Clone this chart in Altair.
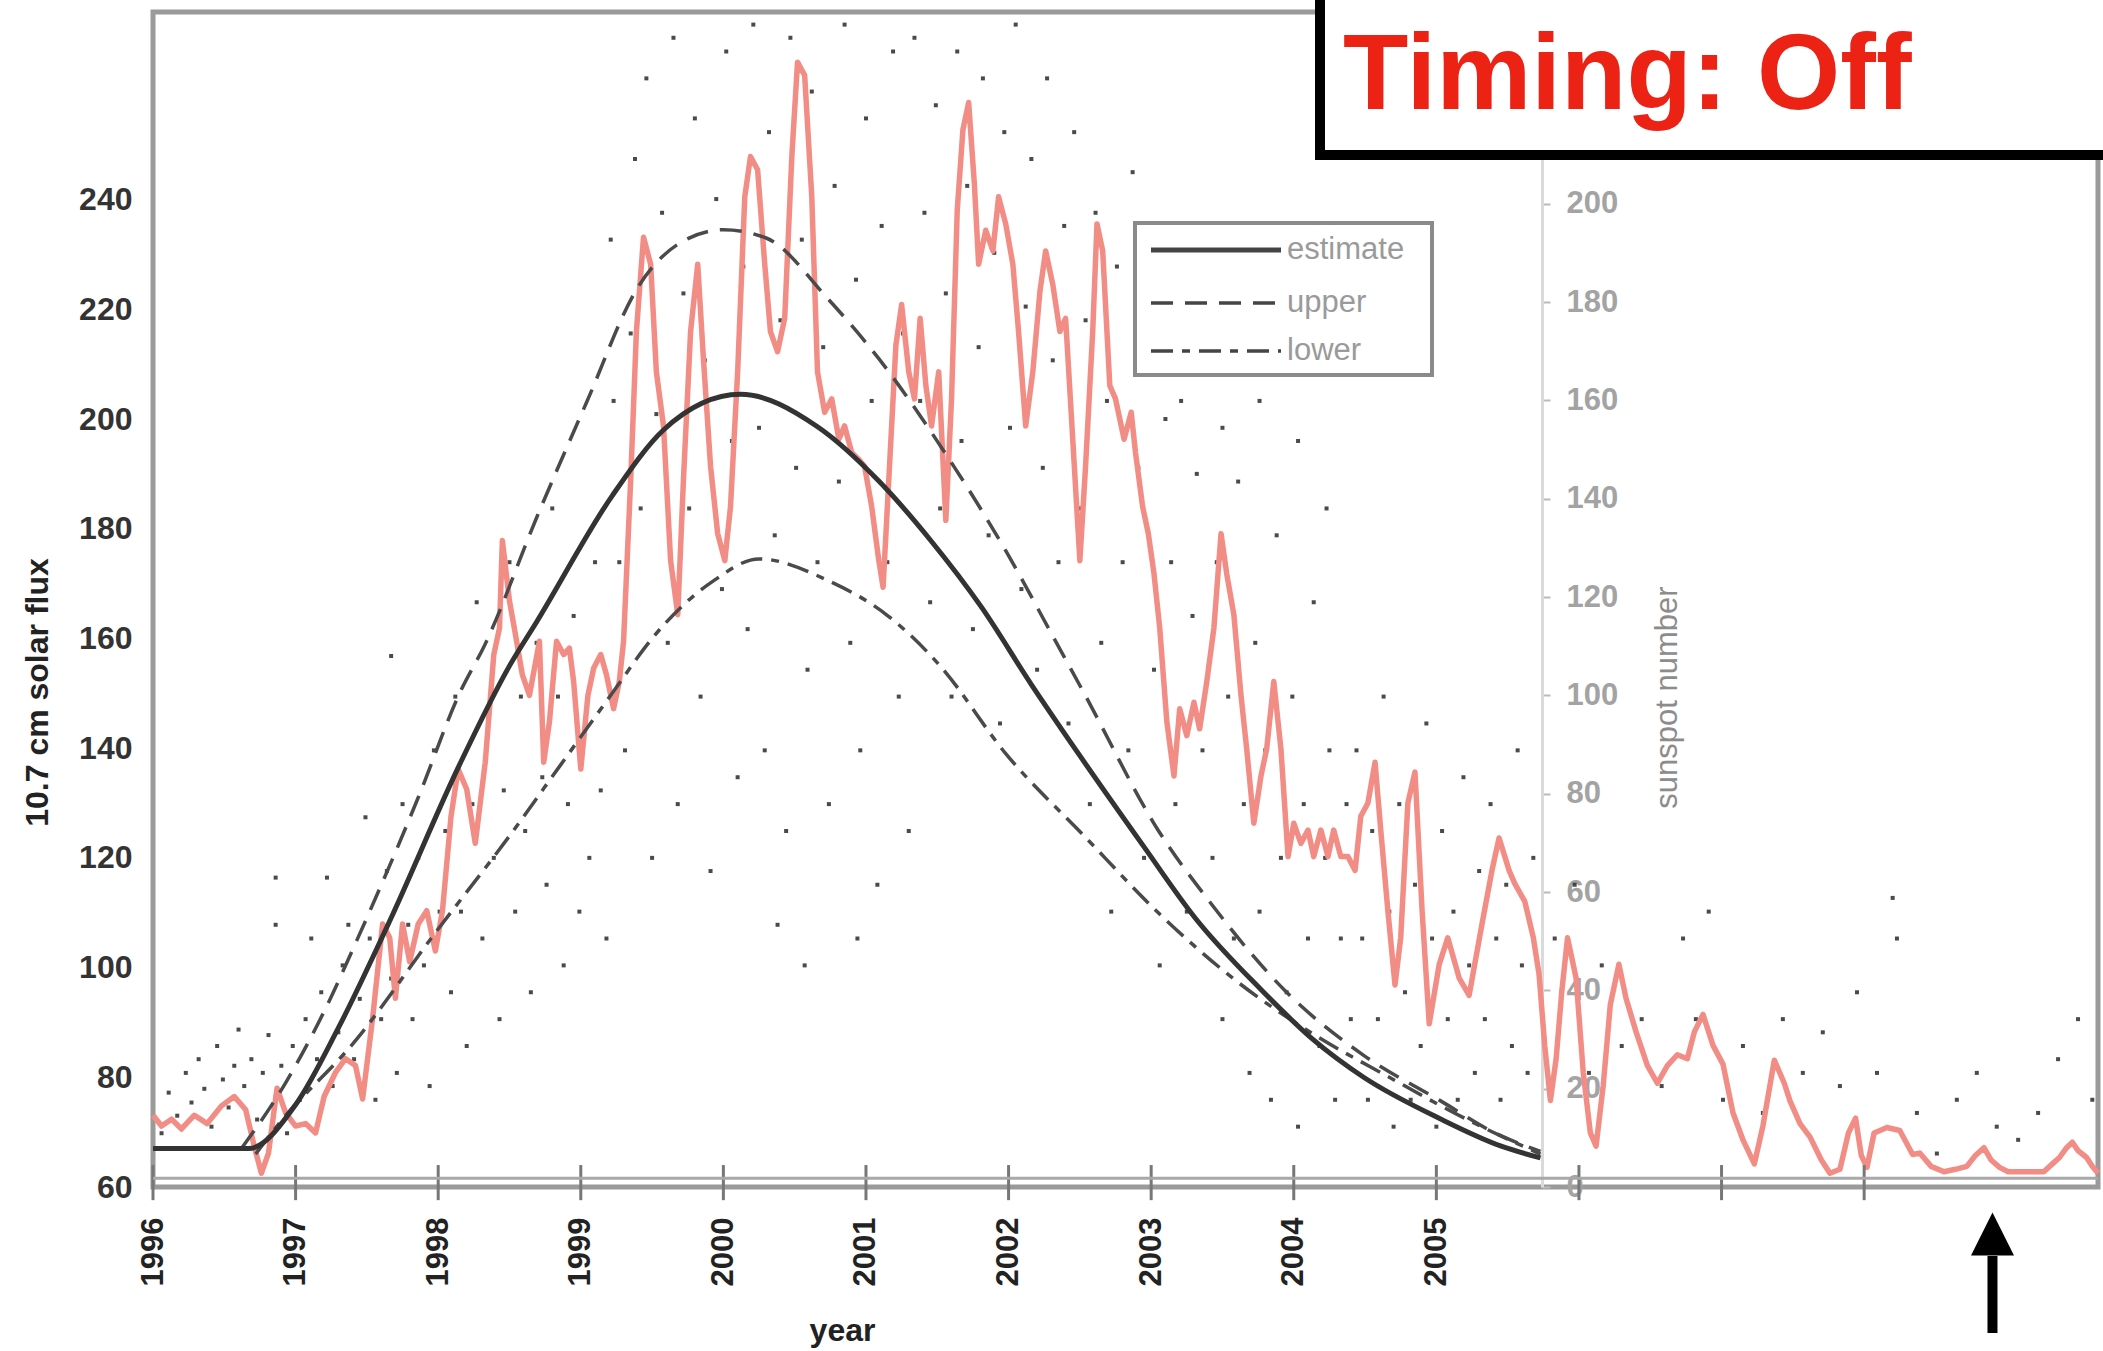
import altair as alt
import pandas as pd

# ---------------- data ----------------
est_year = [1996.0, 1996.67, 1997.0, 1997.3, 1997.66, 1998.15, 1998.5, 1998.69, 1999.22, 1999.58,
            2000.12, 2000.66, 2001.09, 2001.45, 2001.81, 2002.16, 2002.49, 2002.95, 2003.31, 2003.77,
            2004.13, 2004.49, 2005.03, 2005.45, 2005.73]
est_flux = [67, 67, 75, 89, 108.5, 137, 155, 163, 186, 198,
            204.5, 198.6, 188.7, 178, 165.7, 151.6, 139, 122, 109, 96,
            87, 80, 72.4, 67.5, 65.3]

upper_year = [1996.62, 1996.93, 1997.2, 1997.43, 1997.86, 1998.15, 1998.33, 1998.69, 1999.04, 1999.4,
              1999.69, 2000.0, 2000.3, 2000.73, 2001.09, 2001.55, 2001.98, 2002.34, 2002.53, 2003.05,
              2003.41, 2003.95, 2004.49, 2005.03, 2005.4, 2005.73]
upper_flux = [67, 79, 92, 105, 131, 150, 159, 182, 203, 224,
              232, 234.5, 233, 222, 211, 194, 176, 159, 150, 125,
              112, 95.5, 84, 75.7, 70, 66.5]

lower_year = [1996.72, 1996.86, 1997.43, 1997.97, 1998.5, 1998.86, 1999.22, 1999.5, 1999.93, 2000.25,
              2000.73, 2001.16, 2001.52, 2001.98, 2002.53, 2003.05, 2003.6, 2004.13, 2004.67, 2005.2,
              2005.73]
lower_flux = [66, 70.8, 87, 106, 124, 137, 150, 160, 170.5, 174.5,
              170.6, 164, 155, 139, 124, 110, 97.5, 88, 80, 72.5,
              66]

red_year = [1996.00, 1996.06, 1996.13, 1996.20, 1996.29, 1996.38, 1996.48, 1996.57, 1996.65, 1996.71,
            1996.76, 1996.81, 1996.87, 1996.93, 1997.00, 1997.07, 1997.14, 1997.20, 1997.28, 1997.35,
            1997.42, 1997.47, 1997.54, 1997.61, 1997.66, 1997.70, 1997.75, 1997.80, 1997.86, 1997.92,
            1997.98, 1998.03, 1998.09, 1998.14, 1998.20, 1998.26, 1998.33, 1998.39, 1998.43, 1998.45,
            1998.50, 1998.55, 1998.59, 1998.64, 1998.71, 1998.74, 1998.78, 1998.83, 1998.88, 1998.92,
            1998.95, 1999.00, 1999.05, 1999.09, 1999.14, 1999.18, 1999.23, 1999.27, 1999.30, 1999.35,
            1999.39, 1999.44, 1999.49, 1999.53, 1999.58, 1999.63, 1999.68, 1999.72, 1999.77, 1999.82,
            1999.86, 1999.91, 1999.96, 2000.01, 2000.05, 2000.10, 2000.15, 2000.19, 2000.24, 2000.29,
            2000.33, 2000.38, 2000.43, 2000.48, 2000.52, 2000.57, 2000.62, 2000.66, 2000.71, 2000.76,
            2000.81, 2000.85, 2000.90, 2000.95, 2000.99, 2001.04, 2001.09, 2001.12, 2001.15, 2001.21,
            2001.25, 2001.30, 2001.34, 2001.38, 2001.42, 2001.46, 2001.51, 2001.56, 2001.60, 2001.64,
            2001.68, 2001.72, 2001.76, 2001.79, 2001.84, 2001.89, 2001.93, 2001.98, 2002.03, 2002.07,
            2002.12, 2002.17, 2002.22, 2002.26, 2002.31, 2002.36, 2002.40, 2002.45, 2002.50, 2002.54,
            2002.59, 2002.62, 2002.66, 2002.71, 2002.75, 2002.81, 2002.86, 2002.89, 2002.94, 2002.98,
            2003.02, 2003.06, 2003.11, 2003.16, 2003.20, 2003.25, 2003.30, 2003.34, 2003.39, 2003.44,
            2003.49, 2003.53, 2003.58, 2003.63, 2003.67, 2003.72, 2003.77, 2003.81, 2003.86, 2003.91,
            2003.96, 2004.00, 2004.05, 2004.10, 2004.14, 2004.19, 2004.24, 2004.28, 2004.33, 2004.38,
            2004.43, 2004.47, 2004.52, 2004.57, 2004.61, 2004.66, 2004.71, 2004.75, 2004.80, 2004.85,
            2004.90, 2004.95, 2005.02, 2005.08, 2005.16, 2005.23, 2005.32, 2005.39, 2005.44, 2005.51,
            2005.55, 2005.62, 2005.68, 2005.72, 2005.76, 2005.80, 2005.84, 2005.88, 2005.92, 2005.98,
            2006.03, 2006.08, 2006.12, 2006.17, 2006.22, 2006.28, 2006.33, 2006.40, 2006.48, 2006.55,
            2006.62, 2006.69, 2006.76, 2006.81, 2006.87, 2006.94, 2007.01, 2007.08, 2007.15, 2007.23,
            2007.29, 2007.37, 2007.44, 2007.48, 2007.55, 2007.62, 2007.70, 2007.76, 2007.83, 2007.89,
            2007.94, 2007.98, 2008.02, 2008.07, 2008.16, 2008.25, 2008.34, 2008.39, 2008.47, 2008.56,
            2008.64, 2008.72, 2008.78, 2008.84, 2008.89, 2008.95, 2009.01, 2009.07, 2009.17, 2009.26,
            2009.32, 2009.37, 2009.42, 2009.46, 2009.50, 2009.56, 2009.60, 2009.64]
red_ssn = [14.6, 12.4, 13.8, 11.8, 14.6, 12.9, 16.5, 18.4, 15.7, 8.3,
           2.8, 6.9, 20.1, 15.1, 12.4, 12.9, 11.0, 18.4, 23.3, 26.1,
           24.7, 17.9, 34.3, 53.5, 50.7, 38.4, 53.5, 45.8, 53.5, 56.2,
           48.0, 56.2, 75.4, 85.0, 80.9, 69.9, 86.4, 108.3, 113.7, 131.5,
           119.2, 111.0, 104.2, 100.0, 111.0, 86.4, 94.6, 111.0, 108.3, 109.6,
           102.8, 85.0, 100.0, 105.5, 108.3, 104.2, 97.3, 102.8, 111.0, 143.9,
           174.0, 193.2, 187.7, 165.8, 154.8, 127.4, 116.4, 143.9, 174.0, 187.7,
           168.5, 146.6, 132.9, 127.4, 138.4, 165.8, 201.4, 209.6, 206.9, 187.7,
           174.0, 169.9, 176.7, 209.6, 228.8, 226.1, 201.4, 165.8, 157.6, 160.3,
           152.1, 154.8, 149.4, 148.0, 146.6, 138.4, 127.4, 122.0, 138.4, 171.3,
           179.5, 165.8, 160.3, 176.7, 163.0, 154.8, 165.8, 135.6, 160.3, 198.7,
           215.1, 220.6, 204.1, 187.7, 194.6, 190.4, 201.4, 195.9, 187.7, 174.0,
           154.8, 165.8, 182.2, 190.4, 183.6, 174.0, 176.7, 152.1, 127.4, 146.6,
           174.0, 195.9, 190.4, 163.0, 160.3, 152.1, 157.6, 149.4, 138.4, 132.9,
           124.7, 113.7, 94.6, 83.6, 97.3, 91.8, 98.6, 93.2, 102.8, 113.7,
           132.9, 124.7, 116.4, 100.0, 89.1, 74.0, 83.6, 89.1, 102.8, 89.1,
           67.2, 74.0, 69.9, 72.6, 67.2, 72.6, 67.2, 72.6, 67.2, 67.2,
           64.4, 75.4, 78.1, 86.4, 72.6, 56.2, 41.1, 50.7, 78.1, 84.4,
           56.2, 33.2, 45.3, 50.7, 42.5, 39.0, 53.5, 64.4, 71.0, 64.4,
           61.7, 58.1, 50.7, 43.3, 28.8, 17.6, 26.1, 39.9, 50.7, 42.5,
           23.3, 11.0, 8.3, 20.6, 37.1, 45.3, 38.4, 31.6, 24.7, 21.1,
           24.7, 26.9, 26.1, 31.6, 35.1, 28.8, 25.0, 15.1, 9.6, 4.7,
           12.4, 25.8, 21.1, 17.5, 12.9, 10.2, 5.5, 2.8, 3.6, 11.0,
           14.0, 6.4, 4.0, 11.0, 12.1, 11.5, 6.6, 6.9, 4.2, 3.1,
           3.6, 4.2, 6.4, 8.0, 5.5, 4.0, 3.1, 3.1, 3.1, 3.1,
           4.7, 6.0, 8.0, 9.1, 7.4, 6.0, 4.2, 2.8]

# scattered daily values (grey specks)
dot_year = [1996.06, 1996.11, 1996.17, 1996.23, 1996.27, 1996.32, 1996.36, 1996.41, 1996.45, 1996.49,
            1996.53, 1996.57, 1996.60, 1996.64, 1996.69, 1996.73, 1996.77, 1996.81, 1996.86, 1996.90,
            1996.94, 1996.98, 1996.86, 1996.86,
            1997.03, 1997.07, 1997.11, 1997.15, 1997.18, 1997.22, 1997.26, 1997.30, 1997.33, 1997.37,
            1997.41, 1997.45, 1997.49, 1997.52, 1997.56, 1997.60, 1997.64, 1997.67, 1997.71, 1997.75,
            1997.79, 1997.82, 1997.86, 1997.90, 1997.94, 1997.97, 1998.01, 1997.67,
            1998.05, 1998.09, 1998.12, 1998.16, 1998.20, 1998.24, 1998.27, 1998.31, 1998.35, 1998.39,
            1998.43, 1998.46, 1998.50, 1998.54, 1998.58, 1998.61, 1998.65, 1998.69, 1998.73, 1998.76,
            1998.80, 1998.84, 1998.88, 1998.91, 1998.95, 1998.99, 1999.03, 1999.06, 1999.10, 1999.14,
            1999.18,
            1999.21, 1999.23, 1999.27, 1999.31, 1999.35, 1999.38, 1999.42, 1999.46, 1999.50, 1999.53,
            1999.57, 1999.61, 1999.65, 1999.68, 1999.72, 1999.76, 1999.80, 1999.84, 1999.87, 1999.91,
            1999.95, 1999.99, 2000.02, 2000.06, 2000.10, 2000.14, 2000.17,
            2000.21, 2000.25, 2000.29, 2000.32, 2000.36, 2000.40, 2000.44, 2000.47, 2000.51, 2000.55,
            2000.59, 2000.62, 2000.66, 2000.70, 2000.74, 2000.78, 2000.81, 2000.85, 2000.89, 2000.93,
            2000.96, 2001.00, 2001.04, 2001.08, 2001.11, 2001.15, 2001.19, 2001.23, 2001.26, 2001.30,
            2000.57, 2000.94, 2000.38,
            2001.34, 2001.38, 2001.41, 2001.45, 2001.49, 2001.52, 2001.56, 2001.60, 2001.64, 2001.67,
            2001.71, 2001.75, 2001.79, 2001.82, 2001.86, 2001.90, 2001.94, 2001.97, 2002.01, 2002.05,
            2002.09, 2002.12, 2002.16, 2002.20, 2002.24, 2002.27, 2002.31, 2002.35, 2002.39, 2002.42,
            2002.46, 2002.50, 2002.54, 2002.57, 2002.61, 2002.65, 2002.69, 2002.72, 2002.76, 2002.80,
            2002.84, 2002.87, 2002.91, 2002.95, 2002.99, 2003.02, 2003.06, 2003.10, 2003.14, 2003.17,
            2003.21, 2003.25, 2003.29, 2003.32, 2003.36,
            2003.43, 2003.46, 2003.50, 2003.54, 2003.58, 2003.61, 2003.65, 2003.69, 2003.73, 2003.76,
            2003.80, 2003.84, 2003.88, 2003.91, 2003.95, 2003.99, 2004.03, 2004.07, 2004.10, 2004.14,
            2004.18, 2004.22, 2004.25, 2004.29, 2004.33, 2004.37, 2004.40, 2003.50, 2003.76, 2004.03,
            2004.23,
            2004.44, 2004.48, 2004.52, 2004.55, 2004.59, 2004.63, 2004.67, 2004.70, 2004.74, 2004.78,
            2004.82, 2004.85, 2004.89, 2004.93, 2004.97, 2005.00, 2005.04, 2005.08, 2005.12, 2005.15,
            2005.19, 2005.23, 2005.27, 2005.30, 2005.34, 2005.38, 2005.42, 2005.45, 2005.49, 2005.53,
            2005.57, 2005.60, 2005.64, 2005.68,
            2005.83, 2005.88, 2005.97, 2006.07, 2006.16, 2006.30, 2006.44, 2006.58, 2006.73, 2006.82,
            2006.91, 2007.01, 2007.15, 2007.29, 2007.43, 2007.57, 2007.71, 2007.83, 2007.95, 2008.09,
            2008.20, 2008.23, 2008.37, 2008.51, 2008.65, 2008.79, 2008.93, 2009.08, 2009.22, 2009.36,
            2009.50, 2009.60]
dot_flux = [69.8, 77.2, 73.0, 80.8, 75.4, 83.3, 77.9, 71.0, 85.7, 79.6,
            74.5, 82.1, 88.7, 78.4, 83.3, 72.3, 80.8, 87.7, 76.4, 82.1,
            69.8, 85.7, 116.4, 107.8,
            75.9, 90.6, 105.3, 83.3, 95.5, 116.4, 78.4, 88.2, 100.4, 107.8,
            83.3, 94.3, 127.4, 105.3, 75.9, 90.6, 117.6, 98.0, 80.8, 129.8,
            107.8, 90.6, 120.0, 100.4, 78.4, 139.6, 110.2, 156.8,
            124.9, 95.5, 149.4, 110.2, 85.7, 129.8, 166.6, 105.3, 144.5, 120.0,
            90.6, 132.3, 173.9, 110.2, 149.4, 124.9, 95.5, 159.2, 134.7, 115.1,
            183.7, 149.4, 100.4, 129.8, 164.1, 110.2, 144.5, 120.0, 173.9, 132.3,
            105.3,
            232.7, 203.3, 173.9, 139.6, 215.6, 247.4, 183.7, 262.1, 120.0, 200.9,
            237.6, 159.2, 269.5, 129.8, 222.9, 183.7, 254.8, 149.4, 210.7, 117.6,
            240.1, 169.0, 267.0, 196.0, 134.7, 227.8, 161.7,
            271.9, 198.4, 139.6, 252.3, 178.8, 218.0, 124.9, 269.5, 191.1, 232.7,
            154.3, 259.7, 173.9, 213.1, 129.8, 242.5, 188.6, 271.9, 159.2, 225.4,
            139.6, 254.8, 203.3, 115.1, 235.2, 173.9, 267.0, 149.4, 215.6, 124.9,
            100.4, 105.3, 107.8,
            269.5, 203.3, 237.6, 166.6, 257.2, 183.7, 222.9, 149.4, 267.0, 196.0,
            242.5, 161.7, 213.1, 262.1, 178.8, 230.3, 144.5, 252.3, 198.4, 271.9,
            169.0, 220.5, 247.4, 154.3, 191.1, 262.1, 210.7, 173.9, 235.2, 144.5,
            252.3, 183.7, 218.0, 129.8, 237.6, 159.2, 203.3, 110.2, 227.8, 173.9,
            139.6, 245.0, 191.1, 120.0, 215.6, 154.3, 100.4, 200.0, 173.9, 129.8,
            203.3, 110.2, 164.1, 190.0, 139.6,
            120.0, 173.9, 90.6, 149.4, 105.3, 188.6, 129.8, 80.8, 159.2, 110.2,
            139.6, 75.9, 178.8, 120.0, 95.5, 149.4, 71.0, 129.8, 105.3, 166.6,
            85.7, 120.0, 139.6, 75.9, 105.3, 129.8, 90.6, 198.4, 203.3, 196.0,
            183.7,
            139.6, 105.3, 75.9, 124.9, 90.6, 149.4, 110.2, 71.0, 129.8, 95.5,
            75.9, 115.1, 85.7, 144.5, 105.3, 71.0, 124.9, 90.6, 110.2, 75.9,
            134.7, 100.4, 80.8, 117.6, 90.6, 129.8, 105.3, 75.9, 115.1, 85.7,
            139.6, 100.4, 80.8, 120.0,
            105.3, 95.5, 115.1, 80.8, 100.4, 85.7, 90.6, 78.4, 105.3, 90.6,
            110.2, 75.9, 85.7, 73.5, 90.6, 80.8, 88.2, 78.4, 95.5, 80.8,
            112.7, 105.3, 73.5, 66.1, 75.9, 80.8, 71.0, 68.6, 73.5, 83.3,
            90.6, 75.9]

year_labels = list(range(1996, 2006))
tick_years = list(range(1996, 2009))
flux_ticks = list(range(60, 241, 20))
ssn_ticks = list(range(0, 201, 20))
series_names = ["estimate", "upper", "lower"]
annotation_text = "Timing: Off"
arrow_year = [2008.9]

# ---------------- layout constants (pixels) ----------------
W, H = 1945, 1175
FONT = "Liberation Sans"

est_df = pd.DataFrame({"year": est_year, "flux": est_flux})
up_df = pd.DataFrame({"year": upper_year, "flux": upper_flux})
lo_df = pd.DataFrame({"year": lower_year, "flux": lower_flux})
red_df = pd.DataFrame({"year": red_year, "ssn": red_ssn})
dot_df = pd.DataFrame({"year": dot_year, "flux": dot_flux})
tick_df = pd.DataFrame({"year": tick_years, "lo": [57.6] * len(tick_years), "hi": [64.0] * len(tick_years)})
base_df = pd.DataFrame({"flux": [61.6]})
one = pd.DataFrame({"k": [0]})
arrow_df = pd.DataFrame({"year": arrow_year})

x_scale = alt.Scale(domain=[1996, 2009.64], nice=False, zero=False)
x_axis = alt.Axis(values=year_labels, format="d", labelAngle=270, labelFontSize=31,
                  labelFontWeight="bold", labelColor="#222", labelFont=FONT, ticks=False,
                  domain=False, grid=False, labelPadding=30, labelFlush=False, labelOverlap=False,
                  title="year", titleFont=FONT, titleFontSize=32, titleFontWeight="bold",
                  titleColor="#222", titleX=689, titleY=143, titleAlign="center",
                  titleBaseline="middle")
X = alt.X("year:Q", scale=x_scale, axis=x_axis)

flux_scale = alt.Scale(domain=[60, 274.2], nice=False, zero=False)
flux_axis = alt.Axis(orient="left", values=flux_ticks, labelFontSize=32, labelFontWeight="bold",
                     labelColor="#333", labelFont=FONT, ticks=False, domain=False, grid=False,
                     labelPadding=21, labelFlush=False, title="10.7 cm solar flux",
                     titleFont=FONT, titleFontSize=32, titleFontWeight="bold", titleColor="#222",
                     titleX=-116, titleY=680, titleAngle=270, titleAlign="center",
                     titleBaseline="middle")
YF = alt.Y("flux:Q", scale=flux_scale, axis=flux_axis)

ssn_scale = alt.Scale(domain=[0, 239], nice=False, zero=False)
ssn_axis = alt.Axis(orient="right", offset=-556, values=ssn_ticks, labelFontSize=31,
                    labelFontWeight="bold", labelColor="#a3a3a3", labelFont=FONT, tickSize=8,
                    tickColor="#bbbbbb", tickWidth=2, domainColor="#dadada", domainWidth=3,
                    labelPadding=16, grid=False, labelFlush=False, title="sunspot number",
                    titleFont=FONT, titleFontSize=31, titleFontWeight="normal",
                    titleColor="#8c8c8c", titleX=125, titleY=685, titleAngle=270,
                    titleAlign="center", titleBaseline="middle")

# ---------------- layers ----------------
dots = alt.Chart(dot_df).mark_square(size=16, color="#2a2a2a", opacity=0.85).encode(
    x=X, y=alt.Y("flux:Q", scale=flux_scale, axis=None))

red = alt.Chart(red_df).mark_line(color="#F28D86", strokeWidth=5.5, strokeJoin="round").encode(
    x=X, y=alt.Y("ssn:Q", scale=ssn_scale, axis=ssn_axis))

ticks = alt.Chart(tick_df).mark_rule(color="#777", strokeWidth=3).encode(
    x=X, y=alt.Y("lo:Q", scale=flux_scale, axis=flux_axis), y2="hi:Q")

base_line = alt.Chart(base_df).mark_rule(color="#a8a8a8", strokeWidth=3).encode(
    x=alt.value(0), x2=alt.value(W), y=YF)

upper = alt.Chart(up_df).mark_line(color="#4a4a4a", strokeWidth=3.5, strokeDash=[22, 12],
                                   interpolate="monotone").encode(x=X, y=YF)
lower = alt.Chart(lo_df).mark_line(color="#4a4a4a", strokeWidth=3.5, strokeDash=[22, 9, 8, 9],
                                   interpolate="monotone").encode(x=X, y=YF)
est = alt.Chart(est_df).mark_line(color="#333", strokeWidth=5,
                                  interpolate="monotone").encode(x=X, y=YF)

flux_group = alt.layer(ticks, base_line, upper, lower, est)

# legend (drawn by hand, positions in pixels of the plot area)
leg_box = alt.Chart(one).mark_rect(fill="white", stroke="#8a8a8a", strokeWidth=4).encode(
    x=alt.value(982), x2=alt.value(1279), y=alt.value(211), y2=alt.value(363))
leg_rows = [238, 291, 339]
leg_dash = [[1, 0], [22, 12], [22, 9, 8, 9]]
leg_width = [5, 3.5, 3.5]
leg_layers = [leg_box]
for name, yy, dash, sw in zip(series_names, leg_rows, leg_dash, leg_width):
    leg_layers.append(alt.Chart(one).mark_rule(color="#444", strokeWidth=sw, strokeDash=dash).encode(
        x=alt.value(998), x2=alt.value(1128), y=alt.value(yy)))
    leg_layers.append(alt.Chart(one).mark_text(text=name, font=FONT, fontSize=31, color="#9a9a9a",
                                               align="left", baseline="middle").encode(
        x=alt.value(1134), y=alt.value(yy)))

# "Timing: Off" box
ann_box = alt.Chart(one).mark_rect(fill="white", stroke="black", strokeWidth=10).encode(
    x=alt.value(1167), x2=alt.value(2000), y=alt.value(-60), y2=alt.value(143))
ann_text = alt.Chart(one).mark_text(text=annotation_text, font=FONT, fontSize=107,
                                    fontWeight="bold", color="#EB2214", align="left",
                                    baseline="alphabetic").encode(
    x=alt.value(1190), y=alt.value(97))

# arrow
arrow_shaft = alt.Chart(arrow_df).mark_rule(color="black", strokeWidth=10).encode(
    x=X, y=alt.value(1244), y2=alt.value(1321))
arrow_head = alt.Chart(arrow_df).mark_point(shape="M0,-1L-1,1L1,1Z", size=1849, filled=True,
                                            color="black", opacity=1).encode(
    x=X, y=alt.value(1222))

chart = alt.layer(dots, red, flux_group, *leg_layers, ann_box, ann_text, arrow_shaft, arrow_head
                  ).resolve_scale(y="independent").properties(
    width=W, height=H,
    autosize=alt.AutoSizeParams(type="none"),
    padding={"left": 153, "top": 12, "right": 5, "bottom": 164},
    background="white",
).configure_view(stroke="#9a9a9a", strokeWidth=5)

chart.save("out.html", embed_options={"renderer": "svg", "actions": False})
